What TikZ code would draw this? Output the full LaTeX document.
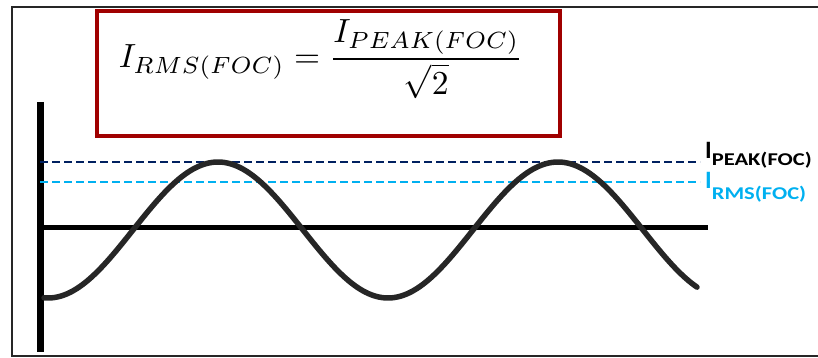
\documentclass[tikz,border=0pt]{standalone}
\usepackage{amsmath}
\usepackage{fontspec}
\newfontfamily\labelfont{Carlito}
\usepackage{tikz}
\definecolor{peakblue}{RGB}{0,32,96}
\definecolor{rmsblue}{RGB}{0,176,240}
\definecolor{boxred}{RGB}{160,0,0}
\newcommand{\levelsub}[1]{\scalebox{1.25}[1]{\fontsize{18}{18}\selectfont #1}}

\begin{document}
\begin{tikzpicture}[x=1pt,y=-1pt,
  levelline/.style={line width=2pt,dash pattern=on 8pt off 4pt},
  levellabel/.style={anchor=base west,inner sep=0pt,font=\labelfont\bfseries}]
  \useasboundingbox (0,0) rectangle (818,358);
  % frame
  \draw[line width=2pt,black!85] (818,7)--(12,7)--(12,356)--(818,356);
  % formula box
  \node[draw=boxred,line width=4pt,minimum width=463pt,minimum height=125pt,
    inner sep=0pt] (eqbox) at (328.5,73.5) {};
  \node (eq) at (321,59) {\scalebox{3.35}{$I_{RMS(FOC)}=\dfrac{I_{PEAK(FOC)}}{\sqrt{2}}$}};
  % axes
  \draw[line width=7pt] (40,102)--(40,352);
  \draw[line width=5pt] (40,227)--(708,227);
  % level lines and labels
  \node[levellabel] (peak) at (705,158) {\fontsize{25}{25}\selectfont I\raisebox{-7pt}{\levelsub{PEAK(FOC)}}};
  \node[levellabel,text=rmsblue] (rms) at (705,188) {\fontsize{25}{25}\selectfont I\raisebox{-11pt}{\levelsub{RMS(FOC)}}};
  \draw[levelline,peakblue] (40,162)--(700,162);
  \draw[levelline,rmsblue] (40,182)--(700,182);
  % wave
  \draw[line width=5.5pt,black!85,line cap=round]
    plot[domain=44:697,samples=120,smooth] (\x,{230+68*cos((\x-48)/340*360)});
\end{tikzpicture}
\end{document}
